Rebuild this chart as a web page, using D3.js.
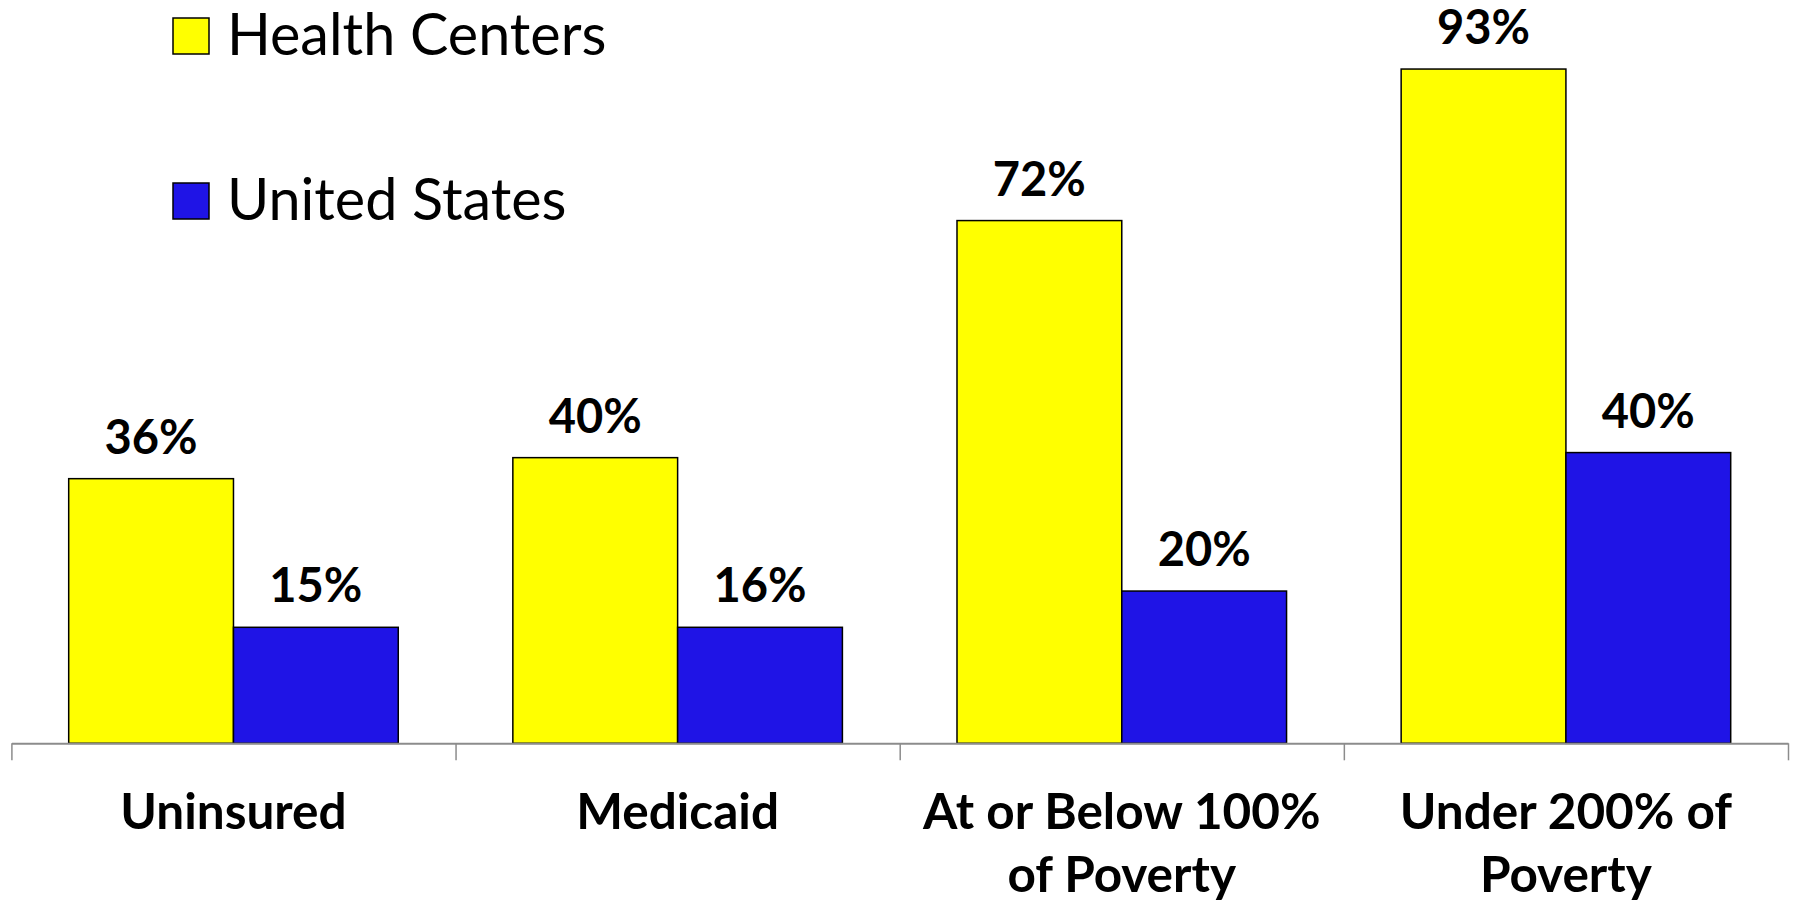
<!DOCTYPE html>
<html>
<head>
<meta charset="utf-8">
<script src="https://cdn.jsdelivr.net/npm/d3@7"></script>
<style>
  html, body { margin: 0; padding: 0; background: #fff; }
  svg { display: block; }
</style>
</head>
<body>
<div id="chart"></div>
<script>
/* data */
var categories = ["Uninsured", "Medicaid", "At or Below 100% of Poverty", "Under 200% of Poverty"];
var categoryLines = [["Uninsured"], ["Medicaid"], ["At or Below 100%", "of Poverty"], ["Under 200% of", "Poverty"]];
var seriesNames = ["Health Centers", "United States"];
var healthCenters = [36.5, 39.4, 72.1, 93];
var unitedStates = [16, 16, 21, 40.1];
var healthLabels = ["36%", "40%", "72%", "93%"];
var usLabels = ["15%", "16%", "20%", "40%"];
var seriesColors = ["#ffff00", "#1f14e6"];

var width = 1795, height = 902;

var svg = d3.select("#chart").append("svg")
	.attr("width", width)
	.attr("height", height);

var baseY = 743.3;

var x0 = d3.scaleBand()
	.domain(categories)
	.range([11.4, 1788])
	.paddingInner(0.258)
	.paddingOuter(0.129);

var x1 = d3.scaleBand()
	.domain(seriesNames)
	.range([0, x0.bandwidth()]);

var y = d3.scaleLinear()
	.domain([0, 100])
	.range([baseY, baseY - 725]);

var color = d3.scaleOrdinal().domain(seriesNames).range(seriesColors);

var rows = categories.map(function(c, i) {
	return {
		cat: c,
		values: [
			{name: seriesNames[0], v: healthCenters[i], label: healthLabels[i]},
			{name: seriesNames[1], v: unitedStates[i], label: usLabels[i]}
		]
	};
});

/*bars*/
var groups = svg.selectAll(".cat")
	.data(rows)
	.enter().append("g")
	.attr("class", "cat")
	.attr("transform", function(d) { return "translate(" + x0(d.cat) + ",0)"; });

groups.selectAll("rect")
	.data(function(d) { return d.values; })
	.enter().append("rect")
	.attr("x", function(d) { return x1(d.name); })
	.attr("y", function(d) { return y(d.v); })
	.attr("width", x1.bandwidth())
	.attr("height", function(d) { return baseY - y(d.v); })
	.style("fill", function(d) { return color(d.name); })
	.style("stroke", "#000")
	.style("stroke-width", 1.5);

groups.selectAll("text.val")
	.data(function(d) { return d.values; })
	.enter().append("text")
	.attr("class", "val")
	.attr("text-anchor", "middle")
	.attr("x", function(d) { return x1(d.name) + x1.bandwidth() / 2; })
	.attr("y", function(d) { return y(d.v) - 25; })
	.style("font-family", "Lato, 'Open Sans', sans-serif")
	.style("font-weight", 700)
	.style("font-size", "47px")
	.style("fill", "#000")
	.text(function(d) { return d.label; });

/*axis with ticks at category boundaries*/
var edges = d3.scaleLinear()
	.domain([0, categories.length])
	.range(x0.range());

var axis = svg.append("g")
	.attr("transform", "translate(0," + baseY + ")")
	.call(d3.axisBottom(edges)
		.tickValues(d3.range(categories.length + 1))
		.tickSize(17)
		.tickSizeOuter(0)
		.tickFormat(""));

axis.select(".domain")
	.style("stroke", "#8c8c8c")
	.style("stroke-width", 2);
axis.selectAll(".tick line")
	.style("stroke", "#8c8c8c")
	.style("stroke-width", 1.5);

/*category labels*/
var catText = svg.selectAll(".catlabel")
	.data(categories)
	.enter().append("text")
	.attr("class", "catlabel")
	.attr("text-anchor", "middle")
	.attr("x", function(d) { return x0(d) + x0.bandwidth() / 2; })
	.attr("y", 829)
	.style("font-family", "Lato, 'Open Sans', sans-serif")
	.style("font-weight", 700)
	.style("font-size", "49.5px")
	.style("fill", "#000");

catText.selectAll("tspan")
	.data(function(d, i) { return categoryLines[i]; })
	.enter().append("tspan")
	.attr("x", function() { return d3.select(this.parentNode).attr("x"); })
	.attr("dy", function(d, i) { return i === 0 ? 0 : 62.5; })
	.text(function(d) { return d; });

/*legend*/
var legend = svg.selectAll(".legend")
	.data(seriesNames)
	.enter().append("g")
	.attr("class", "legend")
	.attr("transform", function(d, i) { return "translate(173," + (18 + i * 165) + ")"; });

legend.append("rect")
	.attr("width", 36)
	.attr("height", 36)
	.style("fill", function(d) { return color(d); })
	.style("stroke", "#000")
	.style("stroke-width", 1.5);

legend.append("text")
	.attr("x", 54)
	.attr("y", 37)
	.style("font-family", "Lato, 'Open Sans', sans-serif")
	.style("font-size", "57.5px")
	.style("fill", "#000")
	.text(function(d) { return d; });
</script>
</body>
</html>
